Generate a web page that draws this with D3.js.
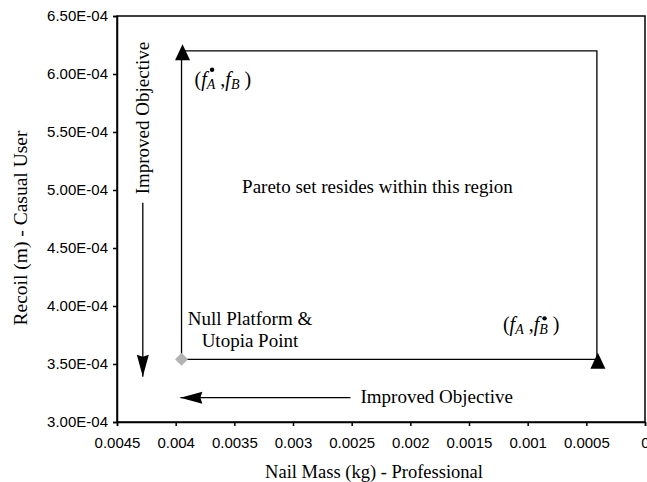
<!DOCTYPE html>
<html>
<head>
  <meta charset="utf-8">
  <title>Pareto Region</title>
  <script src="https://d3js.org/d3.v7.min.js"></script>
  <style>
    body { margin: 0; background: #fff; }
    .tick text { font-family: "Liberation Sans", Arial, sans-serif; font-size: 15px; fill: #000; }
    .tick line, .domain { stroke: #000; stroke-width: 1.5px; }
    .serif { font-family: "Liberation Serif", "Times New Roman", serif; font-size: 19px; fill: #000; }
  </style>
</head>
<body>
  <svg width="647" height="482"></svg>
  <script>
    // axis ticks
    const xTicks = [0.0045, 0.004, 0.0035, 0.003, 0.0025, 0.002, 0.0015, 0.001, 0.0005, 0];
    const xTickLabels = ["0.0045", "0.004", "0.0035", "0.003", "0.0025", "0.002", "0.0015", "0.001", "0.0005", "0"];
    const yTicks = [3.0e-4, 3.5e-4, 4.0e-4, 4.5e-4, 5.0e-4, 5.5e-4, 6.0e-4, 6.5e-4];
    const yTickLabels = ["3.00E-04", "3.50E-04", "4.00E-04", "4.50E-04", "5.00E-04", "5.50E-04", "6.00E-04", "6.50E-04"];

    // points (nail mass, recoil)
    const nullPlatform = [0.00395, 3.54e-4];
    const extremePoints = [[0.00395, 6.2e-4], [0.00041, 3.54e-4]];
    const regionCorners = [[0.00395, 3.54e-4], [0.00395, 6.2e-4], [0.00041, 6.2e-4], [0.00041, 3.54e-4]];

    // "improved objective" arrows: tail, tip
    const arrowY = [[0.00428, 4.89e-4], [0.00428, 3.39e-4]];
    const arrowX = [[0.00251, 3.21e-4], [0.00396, 3.21e-4]];

    const svg = d3.select("svg");
    const margin = {left: 117, right: 2, top: 16, bottom: 60};
    const width = +svg.attr("width"), height = +svg.attr("height");

    const x = d3.scaleLinear().domain([0.0045, 0]).range([margin.left, width - margin.right]);
    const y = d3.scaleLinear().domain([3.0e-4, 6.5e-4]).range([height - margin.bottom, margin.top]);

    // frame
    svg.append("rect")
      .attr("x", x(0.0045)).attr("y", y(6.5e-4))
      .attr("width", x(0) - x(0.0045)).attr("height", y(3.0e-4) - y(6.5e-4))
      .attr("fill", "none").attr("stroke", "#000").attr("stroke-width", 1.5);

    svg.append("g")
      .attr("transform", `translate(0,${y(3.0e-4)})`)
      .call(d3.axisBottom(x).tickValues(xTicks).tickSize(4).tickPadding(11)
        .tickFormat((d, i) => xTickLabels[i]));

    svg.append("g")
      .attr("transform", `translate(${x(0.0045)},0)`)
      .call(d3.axisLeft(y).tickValues(yTicks).tickSize(4).tickPadding(5)
        .tickFormat((d, i) => yTickLabels[i]));

    // axis titles
    svg.append("text").attr("class", "serif")
      .attr("x", 374).attr("y", 478)
      .attr("text-anchor", "middle").style("font-size", "18.5px")
      .text("Nail Mass (kg) - Professional");

    svg.append("text").attr("class", "serif")
      .attr("transform", `translate(27,${228}) rotate(-90)`)
      .attr("text-anchor", "middle").style("font-size", "19.5px")
      .text("Recoil (m) - Casual User");

    // region outline
    svg.append("path")
      .datum(regionCorners)
      .attr("d", d3.line().x(d => x(d[0])).y(d => y(d[1])).curve(d3.curveLinearClosed))
      .attr("fill", "none").attr("stroke", "#000").attr("stroke-width", 1.3);

    // triangle markers
    svg.selectAll(".tri")
      .data(extremePoints)
      .enter().append("path")
      .attr("class", "tri")
      .attr("transform", d => `translate(${x(d[0]) + 1},${y(d[1]) + 1.5})`)
      .attr("d", "M0,-8L7.5,8L-7.5,8Z")
      .attr("fill", "#000");

    // null platform diamond
    svg.append("path")
      .attr("transform", `translate(${x(nullPlatform[0])},${y(nullPlatform[1])})`)
      .attr("d", "M0,-6.5L6.5,0L0,6.5L-6.5,0Z")
      .attr("fill", "#b3b3b3");

    // arrows
    function arrow(pts) {
      const [a, b] = pts;
      const x1 = x(a[0]), y1 = y(a[1]), x2 = x(b[0]), y2 = y(b[1]);
      const ang = Math.atan2(y2 - y1, x2 - x1) * 180 / Math.PI;
      svg.append("line")
        .attr("x1", x1).attr("y1", y1).attr("x2", x2).attr("y2", y2)
        .attr("stroke", "#000").attr("stroke-width", 1.3);
      svg.append("path")
        .attr("transform", `translate(${x2},${y2}) rotate(${ang})`)
        .attr("d", "M0,0L-22,-6L-20,0L-22,6Z")
        .attr("fill", "#000");
    }
    arrow(arrowY);
    arrow(arrowX);

    svg.append("text").attr("class", "serif")
      .attr("transform", `translate(${x(arrowY[0][0]) + 6},${y(5.62e-4)}) rotate(-90)`)
      .attr("text-anchor", "middle")
      .text("Improved Objective");

    svg.append("text").attr("class", "serif")
      .attr("x", x(arrowX[0][0]) + 10).attr("y", y(arrowX[0][1]) + 5)
      .text("Improved Objective");

    // region labels
    svg.append("text").attr("class", "serif")
      .attr("x", x(0.00228)).attr("y", y(4.974e-4))
      .attr("text-anchor", "middle")
      .text("Pareto set resides within this region");

    const nullLabel = svg.append("text").attr("class", "serif")
      .attr("x", x(0.003367)).attr("y", y(nullPlatform[1]) - 34)
      .attr("text-anchor", "middle");
    nullLabel.append("tspan").text("Null Platform &");
    nullLabel.append("tspan").attr("x", x(0.003367)).attr("dy", 22).text("Utopia Point");

    // (f_A*, f_B) style labels; the dot marks the optimum of that objective
    function pairLabel(px, py, starOnA, dotRise) {
      const t = svg.append("text").attr("class", "serif")
        .attr("x", px).attr("y", py).style("font-size", "20px");
      t.append("tspan").text("(");
      t.append("tspan").attr("font-style", "italic").text("f");
      t.append("tspan").attr("font-style", "italic").attr("font-size", 14).attr("dy", 3).text("A");
      t.append("tspan").attr("dy", -3).text(" ,");
      t.append("tspan").attr("font-style", "italic").text("f");
      t.append("tspan").attr("font-style", "italic").attr("font-size", 14).attr("dy", 3).text("B");
      t.append("tspan").attr("dy", -3).text(" )");
      const ext = t.node().getExtentOfChar(starOnA ? 2 : 6);
      svg.append("circle")
        .attr("cx", ext.x + ext.width / 2 + 1)
        .attr("cy", py - dotRise)
        .attr("r", 2.2)
        .attr("fill", "#000");
    }
    pairLabel(x(0.00395) + 13, y(6.2e-4) + 35, true, 16);
    pairLabel(x(0.001211), y(nullPlatform[1]) - 28, false, 13);
  </script>
</body>
</html>
